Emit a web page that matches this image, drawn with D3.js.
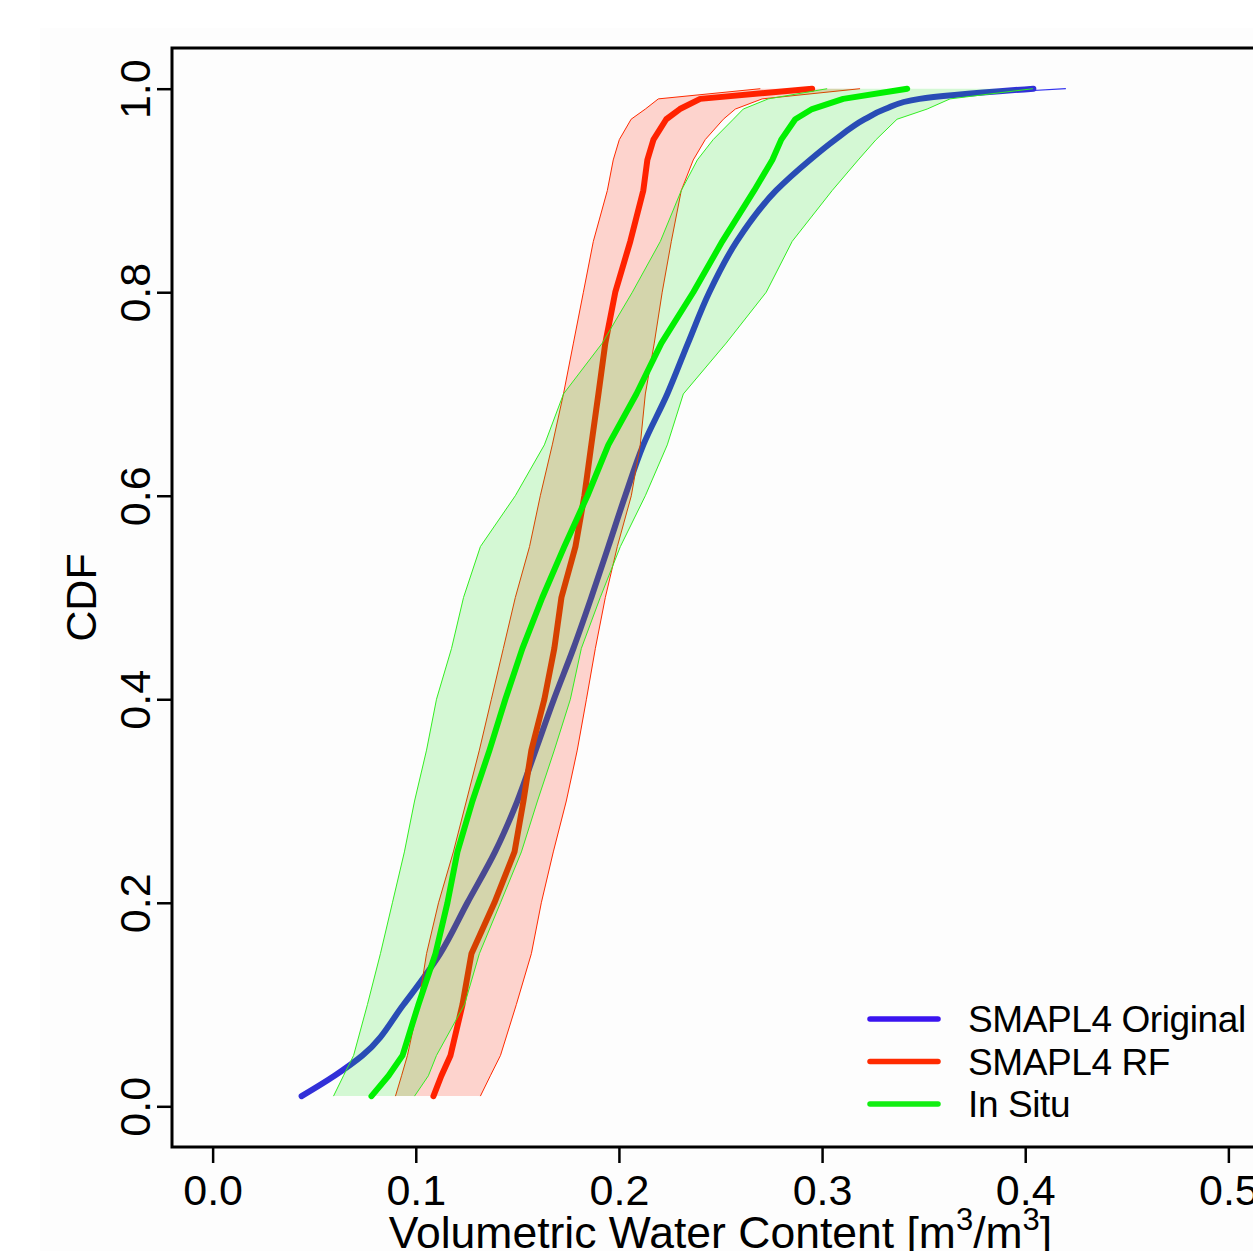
<!DOCTYPE html>
<html>
<head>
<meta charset="utf-8">
<script src="https://cdn.jsdelivr.net/npm/d3@7"></script>
<style>
    body { margin: 0; background: #fff; }
    svg { display: block; font-family: "Liberation Sans", Arial, Helvetica, sans-serif; }
</style>
</head>
<body>
<script>
// CDF levels (y) shared by every curve
const cdfLevels = [0.01, 0.03, 0.05, 0.1, 0.15, 0.2, 0.25, 0.3, 0.35, 0.4, 0.45, 0.5, 0.55,
    0.6, 0.65, 0.7, 0.75, 0.8, 0.85, 0.9, 0.93, 0.95, 0.97, 0.98, 0.99, 1.0];

// soil moisture quantiles [m3/m3] at each level
const smapOriginal = [0.0438, 0.060, 0.0738, 0.094, 0.112, 0.1254, 0.139, 0.150, 0.159, 0.168, 0.1776, 0.1864, 0.1948,
    0.2031, 0.212, 0.2238, 0.234, 0.2445, 0.258, 0.2774, 0.294, 0.3065, 0.321, 0.331, 0.348, 0.404];
const smapRF = [0.1087, 0.1126, 0.1171, 0.123, 0.1274, 0.1387, 0.1486, 0.153, 0.1569, 0.1633, 0.1682, 0.1717, 0.1786,
    0.183, 0.1864, 0.1899, 0.1933, 0.1982, 0.2056, 0.212, 0.214, 0.217, 0.2233, 0.230, 0.240, 0.2951];
const smapRFLow = [0.090, 0.093, 0.0959, 0.1013, 0.1053, 0.1112, 0.1185, 0.1249, 0.1313, 0.1372, 0.1431, 0.149, 0.156,
    0.1613, 0.1672, 0.1727, 0.1776, 0.1825, 0.1874, 0.1943, 0.1972, 0.2002, 0.206, 0.213, 0.2194, 0.2696];
const smapRFHigh = [0.1318, 0.1367, 0.1417, 0.1495, 0.1569, 0.1618, 0.1677, 0.1741, 0.1795, 0.184, 0.1884, 0.1933, 0.1992,
    0.2061, 0.2105, 0.213, 0.2174, 0.2213, 0.2258, 0.2307, 0.2366, 0.2425, 0.2514, 0.2573, 0.2705, 0.3187];
const inSitu = [0.0782, 0.0866, 0.0935, 0.1013, 0.1097, 0.1156, 0.1205, 0.1279, 0.1363, 0.1441, 0.1525, 0.1623, 0.1731,
    0.1845, 0.1948, 0.2086, 0.2209, 0.2366, 0.2509, 0.2666, 0.2755, 0.2799, 0.2868, 0.2951, 0.3104, 0.3419];
const inSituLow = [0.0595, 0.0644, 0.0694, 0.0762, 0.0826, 0.0885, 0.0944, 0.0994, 0.1053, 0.1102, 0.1176, 0.1235, 0.1318,
    0.149, 0.1633, 0.1727, 0.1918, 0.2066, 0.2204, 0.2307, 0.2386, 0.2464, 0.2563, 0.2612, 0.2735, 0.3025];
const inSituHigh = [0.0994, 0.1062, 0.1102, 0.124, 0.1313, 0.1417, 0.152, 0.1599, 0.1682, 0.1761, 0.1815, 0.1908, 0.2007,
    0.213, 0.2238, 0.2317, 0.2528, 0.2725, 0.2853, 0.305, 0.3178, 0.3266, 0.3369, 0.3517, 0.363, 0.4038];

// thin tail of the SMAPL4 original ensemble
const tailLevels = [0.995, 1.0];
const smapTail = [0.375, 0.420];

// axes and legend
const xTicks = [0, 0.1, 0.2, 0.3, 0.4, 0.5];
const yTicks = [0, 0.2, 0.4, 0.6, 0.8, 1.0];
const legendLabels = ['SMAPL4 Original', 'SMAPL4 RF', 'In Situ'];
const legendColors = ['#3a14f0', '#ff2a00', '#11ee11'];

const draw = () => {
    let w = 1253,
        h = 1251;

    let x = d3.scaleLinear().domain([-0.02, 0.52]).range([172, 1269]);
    let y = d3.scaleLinear().domain([-0.04, 1.04]).range([1147, 48]);

    let svg = d3.select('body')
        .append('svg')
        .attr('width', w)
        .attr('height', h);

    svg.append('rect')
        .attr('width', w).attr('height', h)
        .attr('fill', '#fff');

    // faint grey page area of the original figure
    svg.append('rect')
        .attr('x', 40).attr('y', 28)
        .attr('width', w - 40).attr('height', h - 28)
        .attr('fill', '#fdfdfd');

    let line = d3.line()
        .x(d => x(d[0]))
        .y(d => y(d[1]));

    let smooth = d3.line()
        .x(d => x(d[0]))
        .y(d => y(d[1]))
        .curve(d3.curveMonotoneY);

    let area = d3.area()
        .x0(d => x(d[1]))
        .x1(d => x(d[2]))
        .y(d => y(d[0]));

    let pts = vals => vals.map((v, i) => [v, cdfLevels[i]]);
    let band = (lo, hi) => cdfLevels.map((p, i) => [p, lo[i], hi[i]]);

    let plot = svg.append('g');

    // SMAPL4 original (drawn first, bands sit on top of it)
    plot.append('path')
        .attr('d', line(smapTail.map((v, i) => [v, tailLevels[i]])))
        .attr('fill', 'none')
        .attr('stroke', '#3333ee')
        .attr('stroke-width', 1.2);

    plot.append('path')
        .attr('d', smooth(pts(smapOriginal)))
        .attr('fill', 'none')
        .attr('stroke', '#3230d8')
        .attr('stroke-width', 6)
        .attr('stroke-linejoin', 'round')
        .attr('stroke-linecap', 'round');

    // SMAPL4 RF band + median
    plot.append('path')
        .attr('d', area(band(smapRFLow, smapRFHigh)))
        .attr('fill', 'rgba(255,34,0,0.19)');

    [smapRFLow, smapRFHigh].forEach(s => {
        plot.append('path')
            .attr('d', line(pts(s)))
            .attr('fill', 'none')
            .attr('stroke', '#ff2a00')
            .attr('stroke-width', 1);
    });

    plot.append('path')
        .attr('d', line(pts(smapRF)))
        .attr('fill', 'none')
        .attr('stroke', '#ff2200')
        .attr('stroke-width', 6)
        .attr('stroke-linejoin', 'round')
        .attr('stroke-linecap', 'round');

    // In situ band + median
    plot.append('path')
        .attr('d', area(band(inSituLow, inSituHigh)))
        .attr('fill', 'rgba(0,225,0,0.16)');

    [inSituLow, inSituHigh].forEach(s => {
        plot.append('path')
            .attr('d', line(pts(s)))
            .attr('fill', 'none')
            .attr('stroke', '#33ee22')
            .attr('stroke-width', 1);
    });

    plot.append('path')
        .attr('d', line(pts(inSitu)))
        .attr('fill', 'none')
        .attr('stroke', '#00f000')
        .attr('stroke-width', 6)
        .attr('stroke-linejoin', 'round')
        .attr('stroke-linecap', 'round');

    // box
    svg.append('rect')
        .attr('x', x.range()[0]).attr('y', y.range()[1])
        .attr('width', x.range()[1] - x.range()[0])
        .attr('height', y.range()[0] - y.range()[1])
        .attr('fill', 'none')
        .attr('stroke', '#000')
        .attr('stroke-width', 3);

    // x axis
    let xAxis = svg.append('g')
        .attr('transform', `translate(0,${y.range()[0]})`)
        .call(d3.axisBottom(x).tickValues(xTicks).tickSize(16).tickFormat(d3.format('.1f')));
    xAxis.select('.domain').remove();
    xAxis.selectAll('line').attr('stroke-width', 2.5);
    xAxis.selectAll('text')
        .attr('y', 58)
        .attr('dy', null)
        .attr('fill', '#000')
        .style('font-size', '43px')
        .style('font-family', '"Liberation Sans", Arial, sans-serif');

    // y axis
    let yAxis = svg.append('g')
        .attr('transform', `translate(${x.range()[0]},0)`)
        .call(d3.axisLeft(y).tickValues(yTicks).tickSize(15).tickFormat(d3.format('.1f')));
    yAxis.select('.domain').remove();
    yAxis.selectAll('line').attr('stroke-width', 2.5);
    yAxis.selectAll('text')
        .attr('x', null).attr('dy', null)
        .attr('text-anchor', 'middle')
        .attr('transform', 'translate(-22,0) rotate(-90)')
        .attr('fill', '#000')
        .style('font-size', '43px')
        .style('font-family', '"Liberation Sans", Arial, sans-serif');

    // axis titles
    svg.append('text')
        .attr('transform', `translate(96,${(y.range()[0] + y.range()[1]) / 2}) rotate(-90)`)
        .attr('text-anchor', 'middle')
        .style('font-size', '43px')
        .text('CDF');

    let xt = svg.append('text')
        .attr('x', (x.range()[0] + x.range()[1]) / 2)
        .attr('y', 1248)
        .attr('text-anchor', 'middle')
        .style('font-size', '44.5px');
    xt.append('tspan').text('Volumetric Water Content [m');
    xt.append('tspan').attr('dy', -18).style('font-size', '31px').text('3');
    xt.append('tspan').attr('dy', 18).text('/m');
    xt.append('tspan').attr('dy', -18).style('font-size', '31px').text('3');
    xt.append('tspan').attr('dy', 18).text(']');

    // legend
    let legend = svg.append('g')
        .selectAll('g')
        .data(legendLabels)
        .enter()
        .append('g')
        .attr('transform', (d, i) => `translate(870,${1019 + i * 42.5})`);

    legend.append('line')
        .attr('x1', 0).attr('x2', 68)
        .attr('stroke', (d, i) => legendColors[i])
        .attr('stroke-width', 5.5)
        .attr('stroke-linecap', 'round');

    legend.append('text')
        .attr('x', 98)
        .attr('y', 13)
        .style('font-size', '37px')
        .style('letter-spacing', '-0.4px')
        .text(d => d);
}

draw()
</script>
</body>
</html>
